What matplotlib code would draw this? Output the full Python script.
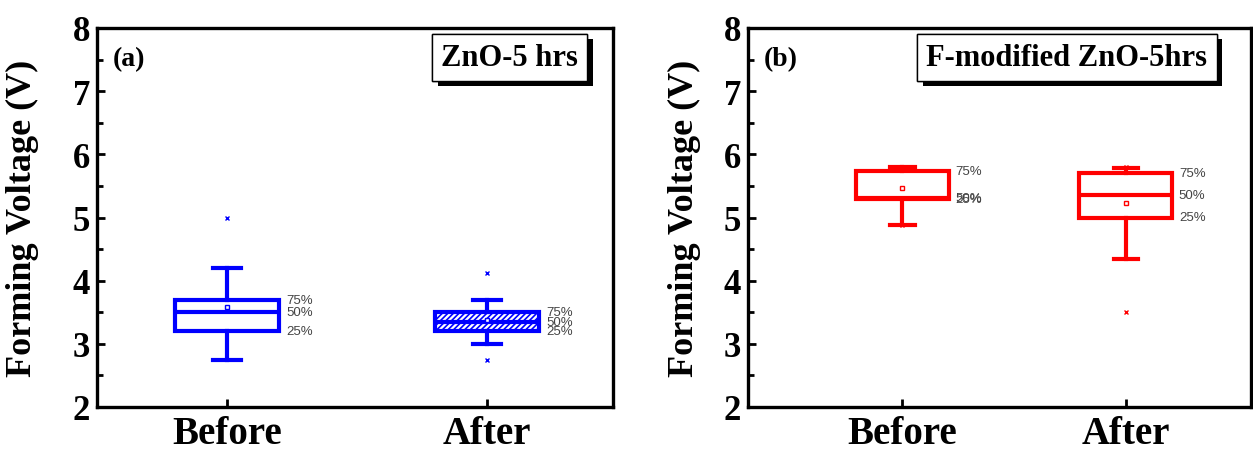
import matplotlib
matplotlib.use('Agg')
import matplotlib.pyplot as plt
import matplotlib.patheffects as pe
from matplotlib.ticker import MultipleLocator

plt.rcParams['font.family'] = ['Liberation Serif', 'DejaVu Serif']

# ========================================
# Data
# ========================================
categories = ['Before', 'After']

# panel (a): ZnO-5 hrs
a_whislo = [2.75, 3.0]
a_q1 = [3.2, 3.2]
a_med = [3.5, 3.35]
a_q3 = [3.7, 3.5]
a_whishi = [4.2, 3.7]
a_mean = [3.59, 3.38]
a_fliers = [[5.0], [4.12, 2.75]]

# panel (b): F-modified ZnO-5hrs
b_whislo = [4.88, 4.35]
b_q1 = [5.3, 5.0]
b_med = [5.31, 5.35]
b_q3 = [5.74, 5.7]
b_whishi = [5.8, 5.79]
b_mean = [5.47, 5.23]
b_fliers = [[5.8, 4.88], [5.8, 3.5]]

W, H = 1253, 452
fig = plt.figure(figsize=(W / 100, H / 100), dpi=100)


def make_stats(whislo, q1, med, q3, whishi, mean, fliers):
    stats = []
    for i in range(len(q1)):
        stats.append(dict(whislo=whislo[i], q1=q1[i], med=med[i], q3=q3[i],
                          whishi=whishi[i], mean=mean[i], fliers=fliers[i]))
    return stats


def draw_panel(ax, stats, color, xlim, width, hatches, tag, title, title_x):
    lw = 3.0
    bp = ax.bxp(stats, positions=[1, 2], widths=width, capwidths=0.11,
                showmeans=True, patch_artist=True, showfliers=True,
                boxprops=dict(edgecolor=color, facecolor='white', linewidth=lw),
                medianprops=dict(color=color, linewidth=lw),
                whiskerprops=dict(color=color, linewidth=lw),
                capprops=dict(color=color, linewidth=lw),
                meanprops=dict(marker='s', markersize=3.5, markerfacecolor='white',
                               markeredgecolor=color, markeredgewidth=1),
                flierprops=dict(marker='x', markersize=3.5, markeredgecolor=color,
                                markeredgewidth=1))
    for box, h in zip(bp['boxes'], hatches):
        if h:
            box.set_hatch(h)

    # percentile labels to the right of each box
    for i, s in enumerate(stats):
        x = i + 1 + width / 2 + 0.03
        for val, lab in [(s['q3'], '75%'), (s['med'], '50%'), (s['q1'], '25%')]:
            ax.text(x, val, lab, fontsize=9.5, color='#444444', va='center',
                    ha='left', family=['Liberation Sans', 'DejaVu Sans'])

    ax.set_xlim(*xlim)
    ax.set_ylim(2, 8)
    ax.set_xticks([1, 2])
    ax.set_xticklabels(categories, fontsize=28, fontweight='bold')
    ax.yaxis.set_major_locator(MultipleLocator(1))
    ax.yaxis.set_minor_locator(MultipleLocator(0.5))
    ax.tick_params(axis='y', which='major', direction='in', length=6, width=2,
                   labelsize=25, right=False, pad=5)
    ax.tick_params(axis='y', which='minor', direction='in', length=4, width=2,
                   right=False)
    ax.tick_params(axis='x', direction='in', length=6, width=2, pad=6, top=False)
    for lab in ax.get_yticklabels():
        lab.set_fontweight('bold')
    for sp in ax.spines.values():
        sp.set_linewidth(2.4)
    ax.set_ylabel('Forming Voltage (V)', fontsize=26, fontweight='bold')

    ax.text(0.031, 0.92, tag, transform=ax.transAxes, fontsize=20,
            fontweight='bold', va='center', ha='left')
    t = ax.text(title_x, 0.923, title, transform=ax.transAxes, fontsize=22,
                fontweight='bold', va='center', ha='center',
                bbox=dict(boxstyle='square,pad=0.3', fc='white', ec='black',
                          lw=1.0))
    t.get_bbox_patch().set_path_effects([
        pe.withSimplePatchShadow(offset=(4, -4), shadow_rgbFace='black', alpha=1.0),
        pe.Normal()])


plt.rcParams['hatch.linewidth'] = 1.2
plt.rcParams['hatch.color'] = 'blue'

ax1 = fig.add_axes([97 / W, 44 / H, 516 / W, 379 / H])
draw_panel(ax1, make_stats(a_whislo, a_q1, a_med, a_q3, a_whishi, a_mean, a_fliers),
           'blue', (0.5, 2.485), 0.4, [None, '//////'], '(a)', 'ZnO-5 hrs', 0.80)

ax2 = fig.add_axes([748 / W, 44 / H, 503 / W, 379 / H])
draw_panel(ax2, make_stats(b_whislo, b_q1, b_med, b_q3, b_whishi, b_mean, b_fliers),
           'red', (0.31, 2.56), 0.415, [None, None], '(b)', 'F-modified ZnO-5hrs', 0.634)

ax1.yaxis.set_label_coords(-0.112, 0.5)
ax2.yaxis.set_label_coords(-0.093, 0.5)

fig.savefig('out.png', dpi=100)
